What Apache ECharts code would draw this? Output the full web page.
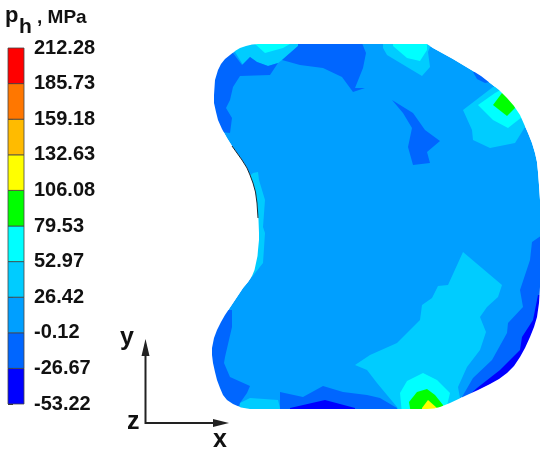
<!DOCTYPE html>
<html>
<head>
<meta charset="utf-8">
<style>
  html, body { margin: 0; padding: 0; background: #fff; }
  #main { width: 550px; height: 455px; }
</style>
<script src="https://cdn.jsdelivr.net/npm/echarts@6/dist/echarts.min.js"></script>
</head>
<body>
<div id="main"></div>
<script>
// contour bands, bottom to top
var bandColors = ['#0000ff', '#0066ff', '#009fff', '#00ccff', '#00ffff', '#00ff00', '#ffff00', '#ffbb00', '#ff7700', '#ff0000'];
var tickLabels = ['-53.22', '-26.67', '-0.12', '26.42', '52.97', '79.53', '106.08', '132.63', '159.18', '185.73', '212.28'];

// section outline
var outline = [[258,44],[427,44],[433,48],[443,53.5],[453,59],[463,65],[473,71],[481,76],[490,83],[499,90],[507,98],[514,106],[520,115],
  [524,124],[528,133],[532,143],[535,153],[537,162],[538,172],[539,185],[540,200],
  [540,287],[539,303],[537,317],[534,327],[530,337],[525,348],[520,357],[514,366],[507,373],[499,379],[490,384],[478,390],[467,395],
  [450,403],[445,405],[440,407],[434,408.5],[427,409],[250,409],[241,407.5],[233,404],[227,400],[223,395],
  [220,388],[217,380],[215,372],[213,363],[212,355],[212,348],[214,338],[217,330],[221,322],[225,315],[233,303],[243,288],[248,282],[252,276],
  [254.5,270],[256,263],[257.5,256],[258,250],[259,240],[259,233],[258.5,220],[257,203],[255.5,192],[253,183],[250,175],[247,168],
  [242,160],[237,153],[232,146],[227,138],[222,129],[218,120],[216,112],[214,103],[214,95],[215,80],[218,70],[221,64],[225,59],[230,55],
  [235,51],[240,48],[246,46],[252,44.5]];
var darkEdge = [[232,146],[237,153],[242,160],[247,168],[250,175],[253,183],[255.5,192],[257,203],[258,218]];

// contour patches, they may run over the outline, the blank around it covers that
var topLeftLight = [[235,52],[243,65],[250,57],[257,62],[268,66],[278,63],[282,60],[298,46],[298,38],[235,38]];
var topLeftCyan = [[255,38],[255,44],[265,53],[283,48],[290,44],[290,38]];
var topLeftDark = [[233,53],[242,65],[250,57],[257,62],[268,66],[278,63],[270,75],[240,76],[233,87],[230,100],[226,108],[232,118],[230,133],[205,130],[205,80],[225,45]];
var topMiddleDark = [[282,60],[298,46],[298,38],[360,38],[366,53],[363,68],[355,88],[365,88],[353,92],[342,77],[323,68],[300,65]];
var topRightLight = [[383,38],[383,48],[387,55],[407,67],[422,76],[430,67],[428,52],[430,47],[430,38]];
var topRightCyan = [[393,38],[393,46],[407,58],[420,61],[427,50],[427,38]];
var edgeDark = [[473,72],[477,79],[485,83],[490,82],[490,70]];
var hotLight = [[493,87],[463,110],[472,130],[473,140],[490,148],[515,143],[525,127],[535,110],[510,85]];
var hotCyan = [[495,93],[478,105],[493,120],[508,128],[522,117],[530,105],[510,85]];
var hotGreen = [[502,93],[493,105],[507,116],[515,108],[512,95]];
var middleDark = [[392,100],[413,113],[425,130],[440,141],[427,152],[430,163],[413,165],[408,147],[412,128],[403,113]];
var leftStrip = [[253,173],[258,172],[259,180],[265,200],[263,227],[265,233],[263,263],[252,277],[240,277],[245,230],[245,180]];
var lowerLight = [[463,252],[502,285],[498,297],[487,307],[480,317],[486,332],[480,350],[467,367],[458,387],[460,398],[455,414],[400,414],
  [397,407],[377,383],[367,370],[355,365],[370,355],[397,343],[420,320],[422,305],[432,298],[438,286],[448,285]];
var bottomCyan = [[402,414],[400,393],[407,381],[423,373],[437,380],[450,393],[445,414]];
var bottomGreen = [[409,402],[417,392],[427,389],[435,395],[443,405],[443,414],[411,414]];
var bottomYellow = [[422,408],[428,400],[437,408],[437,414],[422,414]];
var bottomDark = [[280,392],[303,397],[323,386],[343,392],[367,395],[380,398],[397,408],[397,414],[280,414]];
var bottomBlue = [[290,408],[325,400],[355,408],[355,414],[290,414]];
var bottomLeftDark = [[232,310],[232,327],[225,357],[224,363],[230,377],[250,386],[247,393],[240,403],[235,414],[200,400],[200,310]];
var bottomLeftLight = [[240,403],[250,398],[278,400],[280,408],[280,414],[240,414]];
var rightDark = [[545,233],[532,242],[530,260],[520,290],[523,307],[508,323],[507,333],[492,360],[473,378],[462,397],[462,416],[545,416]];
var rightBlue = [[538,295],[533,320],[522,337],[520,350],[500,370],[477,388],[467,397],[470,416],[545,416],[545,295]];

// band index and patch, later ones lie on top
var patches = [
  [2, outline],
  [3, topLeftLight], [4, topLeftCyan], [1, topLeftDark], [1, topMiddleDark],
  [3, topRightLight], [4, topRightCyan], [1, edgeDark],
  [3, hotLight], [4, hotCyan], [5, hotGreen], [1, middleDark], [3, leftStrip],
  [3, lowerLight], [4, bottomCyan], [5, bottomGreen], [6, bottomYellow],
  [1, bottomDark], [0, bottomBlue], [1, bottomLeftDark], [3, bottomLeftLight],
  [1, rightDark], [0, rightBlue]
];

// white frame with the outline cut out, joined at the first outline point
var frame = [[195,36],[548,36],[548,417],[195,417],[195,36],[258,36]];
var blank = frame.concat([outline[0]], outline.slice().reverse(), [outline[0]], [[258,36]]);

var chart = echarts.init(document.getElementById('main'), null, { renderer: 'canvas' });
var font = '"Liberation Sans", Arial, sans-serif';

function polygonItem (params, api) {
  var item = patches[params.dataIndex];
  return {
    type: 'polygon',
    shape: { points: item[1].map(function (p) { return api.coord(p); }) },
    style: { fill: bandColors[item[0]] }
  };
}

chart.setOption({
  animation: false,
  backgroundColor: '#fff',
  grid: [
    { left: 0, right: 0, top: 0, bottom: 0 },
    { left: 8, top: 48, width: 16, height: 356 }
  ],
  xAxis: [
    { gridIndex: 0, type: 'value', min: 0, max: 550, show: false },
    { gridIndex: 1, type: 'value', min: 0, max: 1, show: false }
  ],
  yAxis: [
    { gridIndex: 0, type: 'value', min: 0, max: 455, inverse: true, show: false },
    {
      gridIndex: 1, type: 'value', min: 0, max: 10, interval: 1, position: 'right',
      splitLine: { show: false },
      axisLine: { show: false },
      axisTick: { show: true, length: 5, lineStyle: { color: '#333', width: 1 } },
      axisLabel: {
        margin: 10, color: '#111', fontFamily: font, fontWeight: 'bold', fontSize: 20,
        formatter: function (v) { return tickLabels[Math.round(v)]; }
      }
    }
  ],
  series: [
    {
      type: 'custom', xAxisIndex: 0, yAxisIndex: 0, clip: false, silent: true, z: 2,
      data: patches.map(function (p, i) { return [i]; }),
      renderItem: polygonItem
    },
    {
      type: 'custom', xAxisIndex: 0, yAxisIndex: 0, clip: false, silent: true, z: 3,
      data: [[0]],
      renderItem: function (params, api) {
        return {
          type: 'polygon',
          shape: { points: blank.map(function (p) { return api.coord(p); }) },
          style: { fill: '#fff' }
        };
      }
    },
    {
      type: 'line', xAxisIndex: 0, yAxisIndex: 0, data: darkEdge, symbol: 'none', silent: true, z: 4,
      lineStyle: { color: '#1c2a33', width: 1 }
    },
    {
      type: 'custom', xAxisIndex: 1, yAxisIndex: 1, clip: false, silent: true, z: 2,
      data: bandColors.map(function (c, i) { return [i]; }),
      renderItem: function (params, api) {
        var i = params.dataIndex;
        var a = api.coord([0, i]);
        var b = api.coord([1, i + 1]);
        return {
          type: 'rect',
          shape: { x: a[0], y: b[1], width: b[0] - a[0], height: a[1] - b[1] },
          style: { fill: bandColors[i], stroke: '#444', lineWidth: 0.8 }
        };
      }
    }
  ],
  graphic: [
    { type: 'text', left: 5, top: 5, style: { text: 'p', fontFamily: font, fontWeight: 'bold', fontSize: 22, fill: '#111' } },
    { type: 'text', left: 19, top: 17, style: { text: 'h', fontFamily: font, fontWeight: 'bold', fontSize: 21, fill: '#111' } },
    { type: 'text', left: 37, top: 8, style: { text: ', MPa', fontFamily: font, fontWeight: 'bold', fontSize: 19, fill: '#111' } },
    { type: 'polyline', shape: { points: [[145.5, 352], [145.5, 423], [215, 423]] }, style: { stroke: '#222', lineWidth: 2, fill: null } },
    { type: 'polygon', shape: { points: [[145.5, 339], [141.5, 356], [149.5, 356]] }, style: { fill: '#222' } },
    { type: 'polygon', shape: { points: [[229, 423], [213, 419], [213, 427]] }, style: { fill: '#222' } },
    { type: 'text', left: 120, top: 326, style: { text: 'y', fontFamily: font, fontWeight: 'bold', fontSize: 25, fill: '#111' } },
    { type: 'text', left: 127, top: 410, style: { text: 'z', fontFamily: font, fontWeight: 'bold', fontSize: 25, fill: '#111' } },
    { type: 'text', left: 213, top: 428, style: { text: 'x', fontFamily: font, fontWeight: 'bold', fontSize: 25, fill: '#111' } }
  ]
});
</script>
</body>
</html>
